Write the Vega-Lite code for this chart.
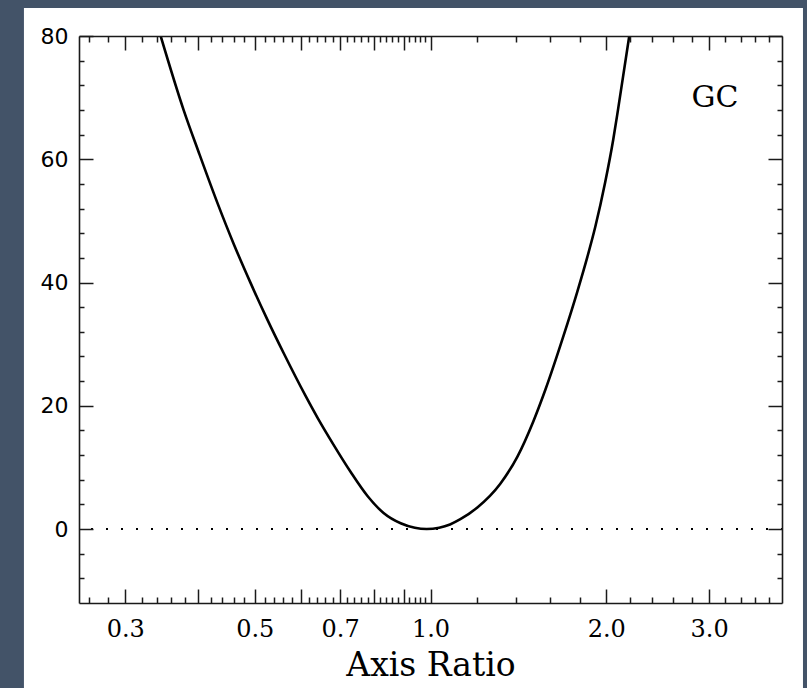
{
  "$schema": "https://vega.github.io/schema/vega-lite/v6.json",
  "autosize": {"type": "none"},
  "padding": {"left": 79, "top": 36, "right": 25, "bottom": 85},
  "width": 703,
  "height": 567,
  "background": "#435368",
  "config": {
    "view": {"stroke": null},
    "axis": {
      "grid": false,
      "domainColor": "#1a1a1a",
      "domainWidth": 1.6,
      "tickColor": "#1a1a1a",
      "tickWidth": 1.5,
      "labelColor": "#000",
      "titleColor": "#000",
      "labelFlush": false,
      "labelOverlap": false
    }
  },
  "data": {
    "values": [
      {"x": 0.345, "y": 80},
      {"x": 0.378, "y": 67.9},
      {"x": 0.401, "y": 61.1},
      {"x": 0.432, "y": 52.8},
      {"x": 0.46, "y": 46.3},
      {"x": 0.492, "y": 39.9},
      {"x": 0.526, "y": 33.9},
      {"x": 0.56, "y": 28.6},
      {"x": 0.611, "y": 21.6},
      {"x": 0.641, "y": 18.0},
      {"x": 0.682, "y": 13.7},
      {"x": 0.73, "y": 9.25},
      {"x": 0.78, "y": 5.36},
      {"x": 0.831, "y": 2.61},
      {"x": 0.889, "y": 0.94},
      {"x": 0.94, "y": 0.2},
      {"x": 0.985, "y": 0.0},
      {"x": 1.035, "y": 0.22},
      {"x": 1.08, "y": 0.75},
      {"x": 1.125, "y": 1.6},
      {"x": 1.203, "y": 3.5},
      {"x": 1.317, "y": 7.35},
      {"x": 1.409, "y": 11.75},
      {"x": 1.5, "y": 17.46},
      {"x": 1.573, "y": 22.6},
      {"x": 1.689, "y": 31.3},
      {"x": 1.784, "y": 38.5},
      {"x": 1.857, "y": 44.2},
      {"x": 1.915, "y": 49.0},
      {"x": 1.992, "y": 56.3},
      {"x": 2.056, "y": 63.2},
      {"x": 2.097, "y": 68.3},
      {"x": 2.19, "y": 80}
    ]
  },
  "resolve": {"axis": {"x": "independent", "y": "independent"}},
  "layer": [
    {
      "data": {"values": [{}]},
      "mark": {"type": "rect", "fill": "white", "clip": false},
      "encoding": {
        "x": {"datum": 0.2012, "type": "quantitative", "axis": null, "scale": {"type": "log", "domain": [0.25, 4], "nice": false}},
        "x2": {"datum": 4.345},
        "y": {"datum": 84.54, "type": "quantitative", "axis": null, "scale": {"domain": [-12, 80], "nice": false, "zero": false}},
        "y2": {"datum": -25.8}
      }
    },
    {
      "mark": {"type": "line", "color": "#000", "strokeWidth": 2.6, "interpolate": "monotone", "clip": true},
      "encoding": {
        "x": {"field": "x", "type": "quantitative", "scale": {"type": "log", "domain": [0.25, 4], "nice": false},
          "axis": {"orient": "bottom", "zindex": 1, "values": [0.3, 0.5, 0.7, 1, 2, 3], "format": ".1f", "ticks": false, "domain": true,
            "labelFont": "DejaVu Serif", "labelFontSize": 24, "labelPadding": 14,
            "title": "Axis Ratio", "titleFont": "DejaVu Serif", "titleFontSize": 33, "titleFontWeight": "normal", "titlePadding": 8}},
        "y": {"field": "y", "type": "quantitative", "scale": {"domain": [-12, 80], "nice": false, "zero": false},
          "axis": {"orient": "left", "zindex": 1, "values": [0, 20, 40, 60, 80], "ticks": false, "domain": true,
            "labelFont": "DejaVu Sans", "labelFontSize": 22, "labelPadding": 11, "title": null}}
      }
    },
    {
      "data": {"values": [{}]},
      "mark": {"type": "rule", "color": "#000", "strokeWidth": 2, "strokeDash": [2, 13], "strokeDashOffset": -14},
      "encoding": {
        "y": {"datum": 0, "type": "quantitative", "axis": null}
      }
    },
    {
      "data": {"values": [{"label": "GC"}]},
      "mark": {"type": "text", "font": "DejaVu Serif", "fontSize": 30, "color": "#000", "align": "center", "baseline": "middle"},
      "encoding": {
        "x": {"datum": 3.07, "type": "quantitative", "axis": null},
        "y": {"datum": 70, "type": "quantitative", "axis": null},
        "text": {"field": "label"}
      }
    },
    {
      "mark": {"type": "line", "strokeOpacity": 0},
      "encoding": {
        "x": {"field": "x", "type": "quantitative",
          "axis": {"orient": "bottom", "zindex": 1, "values": [0.3, 0.4, 0.5, 0.6, 0.7, 0.8, 0.9, 1, 2, 3], "labels": false, "domain": false, "tickSize": -14, "title": null}},
        "y": {"field": "y", "type": "quantitative",
          "axis": {"orient": "left", "zindex": 1, "values": [0, 20, 40, 60, 80], "labels": false, "domain": false, "tickSize": -14, "title": null}}
      }
    },
    {
      "mark": {"type": "line", "strokeOpacity": 0},
      "encoding": {
        "x": {"field": "x", "type": "quantitative",
          "axis": {"orient": "bottom", "zindex": 1, "values": [0.26, 0.28, 0.32, 0.34, 0.36, 0.38, 0.42, 0.44, 0.46, 0.48, 0.52, 0.54, 0.56, 0.58, 0.62, 0.64, 0.66, 0.68, 0.72, 0.74, 0.76, 0.78, 0.82, 0.84, 0.86, 0.88, 0.92, 0.94, 0.96, 0.98, 1.2, 1.4, 1.6, 1.8, 2.2, 2.4, 2.6, 2.8, 3.2, 3.4, 3.6, 3.8], "labels": false, "domain": false, "tickSize": -6, "title": null}},
        "y": {"field": "y", "type": "quantitative",
          "axis": {"orient": "left", "zindex": 1, "values": [-8, -4, 4, 8, 12, 16, 24, 28, 32, 36, 44, 48, 52, 56, 64, 68, 72, 76], "labels": false, "domain": false, "tickSize": -5, "title": null}}
      }
    },
    {
      "mark": {"type": "line", "strokeOpacity": 0},
      "encoding": {
        "x": {"field": "x", "type": "quantitative",
          "axis": {"orient": "top", "zindex": 1, "values": [0.3, 0.4, 0.5, 0.6, 0.7, 0.8, 0.9, 1, 2, 3], "labels": false, "domain": true, "tickSize": -14, "title": null}},
        "y": {"field": "y", "type": "quantitative",
          "axis": {"orient": "right", "zindex": 1, "values": [0, 20, 40, 60, 80], "labels": false, "domain": true, "tickSize": -14, "title": null}}
      }
    },
    {
      "mark": {"type": "line", "strokeOpacity": 0},
      "encoding": {
        "x": {"field": "x", "type": "quantitative",
          "axis": {"orient": "top", "zindex": 1, "values": [0.26, 0.28, 0.32, 0.34, 0.36, 0.38, 0.42, 0.44, 0.46, 0.48, 0.52, 0.54, 0.56, 0.58, 0.62, 0.64, 0.66, 0.68, 0.72, 0.74, 0.76, 0.78, 0.82, 0.84, 0.86, 0.88, 0.92, 0.94, 0.96, 0.98, 1.2, 1.4, 1.6, 1.8, 2.2, 2.4, 2.6, 2.8, 3.2, 3.4, 3.6, 3.8], "labels": false, "domain": false, "tickSize": -6, "title": null}},
        "y": {"field": "y", "type": "quantitative",
          "axis": {"orient": "right", "zindex": 1, "values": [-8, -4, 4, 8, 12, 16, 24, 28, 32, 36, 44, 48, 52, 56, 64, 68, 72, 76], "labels": false, "domain": false, "tickSize": -5, "title": null}}
      }
    }
  ]
}
